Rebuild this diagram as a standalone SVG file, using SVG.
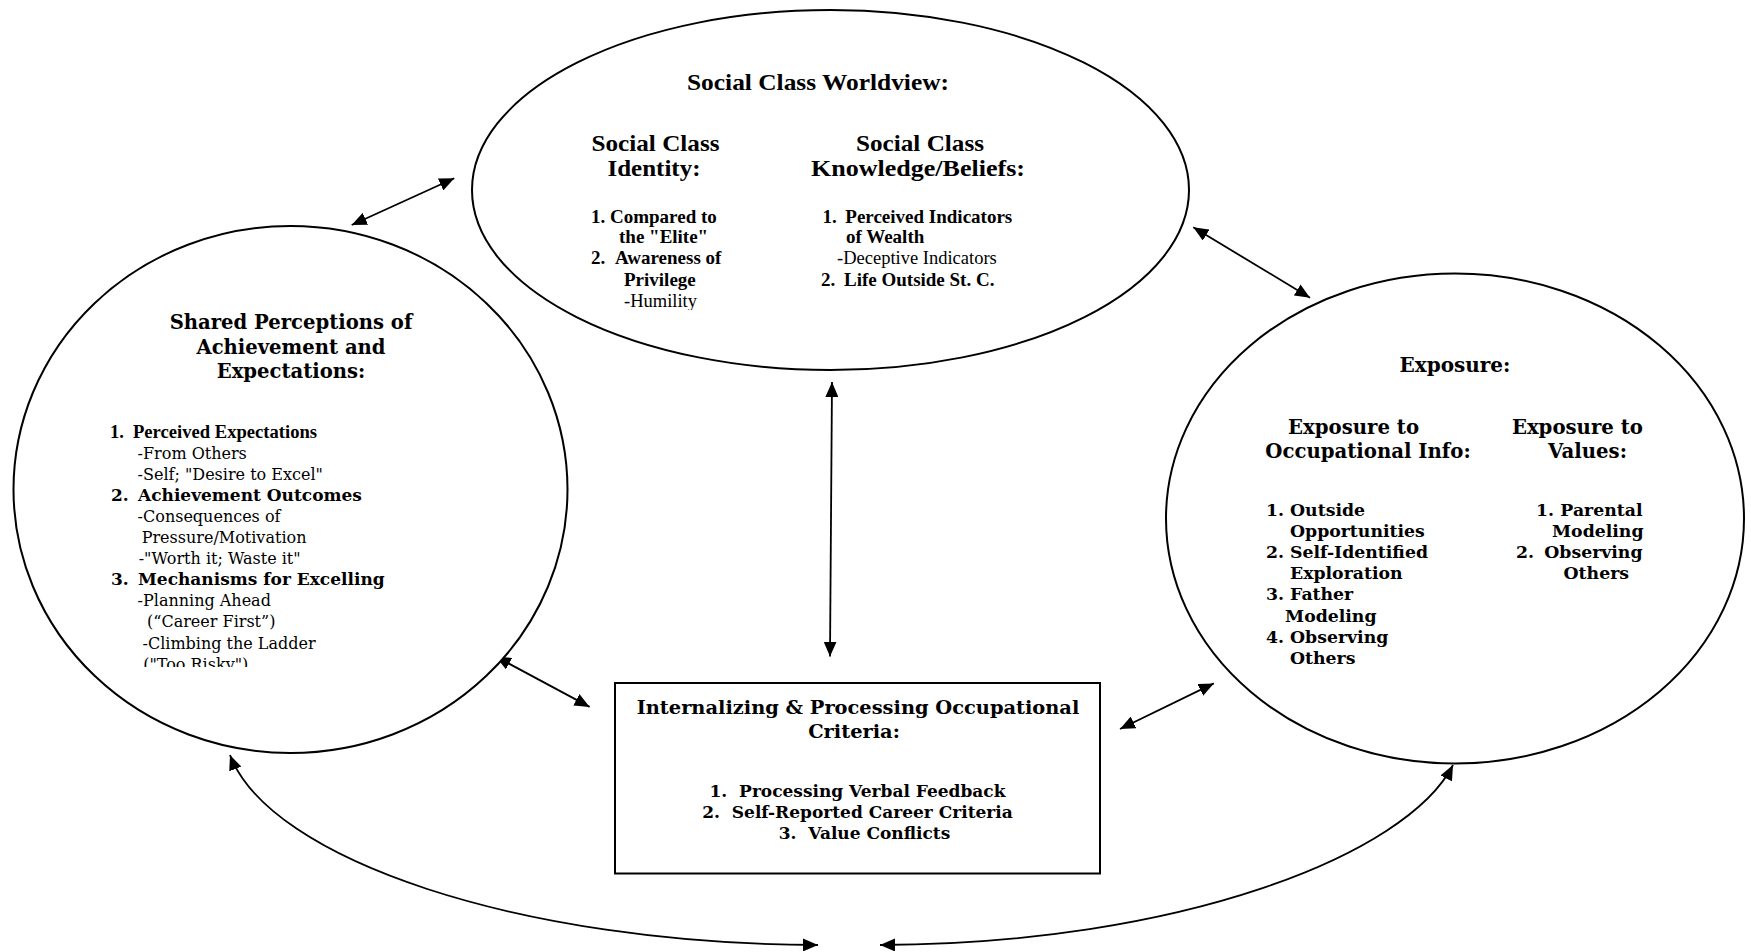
<svg xmlns="http://www.w3.org/2000/svg" width="1751" height="952" viewBox="0 0 1751 952">
<style>
.shape{fill:#fff;stroke:#000;stroke-width:2}
.conn{fill:none;stroke:#000;stroke-width:1.8;marker-start:url(#ah);marker-end:url(#ah)}
.tb{font-family:"Liberation Serif","Times New Roman",serif;font-weight:bold;fill:#000}
.tr{font-family:"Liberation Serif","Times New Roman",serif;font-weight:normal;fill:#000}
.db{font-family:"DejaVu Serif","Bookman Old Style",serif;font-weight:bold;fill:#000}
.dr{font-family:"DejaVu Serif","Bookman Old Style",serif;font-weight:normal;fill:#000}
.h1{font-size:23px}
.h2{font-size:22.5px}
.li{font-size:19px}
.lr{font-size:18.5px}
</style>
<defs>
<marker id="ah" viewBox="0 0 15 13" refX="15" refY="6.5" markerWidth="15" markerHeight="13" markerUnits="userSpaceOnUse" orient="auto-start-reverse">
<path d="M0,0 L15,6.5 L0,13 Z" fill="#000"/>
</marker>
<clipPath id="clipL"><rect x="0" y="0" width="600" height="667"/></clipPath>
<clipPath id="clipT"><rect x="400" y="0" width="900" height="310"/></clipPath>
</defs>
<rect width="1751" height="952" fill="#fff"/>

<g id="connectors">
<line class="conn" x1="351.7" y1="225" x2="454.3" y2="178.3"/>
<line class="conn" x1="1193.3" y1="227.3" x2="1310" y2="297.7"/>
<line class="conn" x1="832" y1="382" x2="830" y2="656.6"/>
<line class="conn" x1="495.8" y1="656.6" x2="589.6" y2="706.9"/>
<line class="conn" x1="1120" y1="729" x2="1213.8" y2="683.4"/>
<path class="conn" d="M230,755 C270,860 520,944 818,945"/>
<path class="conn" d="M1453,765 C1407,855 1180,944 880,945"/>
</g>

<g id="social-class-worldview">
<ellipse class="shape" cx="830.5" cy="190" rx="358.5" ry="180"/>
<text class="tb h1" x="818" y="90" text-anchor="middle" textLength="262" lengthAdjust="spacingAndGlyphs">Social Class Worldview:</text>
<text class="tb h2" x="655.5" y="150.5" text-anchor="middle" textLength="128" lengthAdjust="spacingAndGlyphs">Social Class</text>
<text class="tb h2" x="654" y="176" text-anchor="middle" textLength="93" lengthAdjust="spacingAndGlyphs">Identity:</text>
<text class="tb h2" x="920" y="150.5" text-anchor="middle" textLength="128" lengthAdjust="spacingAndGlyphs">Social Class</text>
<text class="tb h2" x="918" y="176" text-anchor="middle" textLength="214" lengthAdjust="spacingAndGlyphs">Knowledge/Beliefs:</text>
<text class="tb li" x="591" y="222.7">1. Compared to</text>
<text class="tb li" x="619" y="242.7">the "Elite"</text>
<text class="tb li" x="591" y="264">2.</text>
<text class="tb li" x="615" y="264">Awareness of</text>
<text class="tb li" x="624" y="285.7">Privilege</text>
<text class="tr lr" x="624" y="306.7" clip-path="url(#clipT)">-Humility</text>
<text class="tb li" x="822.5" y="222.7">1.</text>
<text class="tb li" x="845.3" y="222.7">Perceived Indicators</text>
<text class="tb li" x="846" y="242.7">of Wealth</text>
<text class="tr lr" x="837" y="264">-Deceptive Indicators</text>
<text class="tb li" x="821" y="285.7">2.</text>
<text class="tb li" x="844" y="285.7">Life Outside St. C.</text>
</g>

<g id="shared-perceptions">
<ellipse class="shape" cx="290.5" cy="489.5" rx="277" ry="263.5"/>
<text class="db" font-size="19.6" x="291" y="329" text-anchor="middle">Shared Perceptions of</text>
<text class="db" font-size="19.6" x="291" y="353.5" text-anchor="middle">Achievement and</text>
<text class="db" font-size="19.6" x="291" y="378" text-anchor="middle">Expectations:</text>
<text class="tb" font-size="18.6" x="110" y="437.5">1.</text>
<text class="tb" font-size="18.6" x="133" y="437.5">Perceived Expectations</text>
<text class="dr" font-size="16" x="137.6" y="458.5">-From Others</text>
<text class="dr" font-size="16" x="137.6" y="479.5">-Self; "Desire to Excel"</text>
<text class="db" font-size="17" x="111" y="500.5">2.</text>
<text class="db" font-size="17" x="138" y="500.5">Achievement Outcomes</text>
<text class="dr" font-size="16" x="137.6" y="521.8">-Consequences of</text>
<text class="dr" font-size="16" x="141.7" y="543">Pressure/Motivation</text>
<text class="dr" font-size="16" x="138.7" y="564">-"Worth it; Waste it"</text>
<text class="db" font-size="17" x="111" y="585.2">3.</text>
<text class="db" font-size="17" x="138" y="585.2">Mechanisms for Excelling</text>
<text class="dr" font-size="16" x="137.6" y="606.3">-Planning Ahead</text>
<text class="dr" font-size="16" x="147" y="627.4">(“Career First”)</text>
<text class="dr" font-size="16" x="142.5" y="648.6">-Climbing the Ladder</text>
<text class="dr" font-size="16" x="143.2" y="670" clip-path="url(#clipL)">("Too Risky")</text>
</g>

<g id="exposure">
<ellipse class="shape" cx="1455" cy="518.5" rx="289" ry="245"/>
<text class="db" font-size="20" x="1455" y="372" text-anchor="middle">Exposure:</text>
<text class="db" font-size="19.7" x="1353.6" y="433.7" text-anchor="middle">Exposure to</text>
<text class="db" font-size="19.7" x="1368" y="457.7" text-anchor="middle">Occupational Info:</text>
<text class="db" font-size="19.7" x="1577.4" y="433.7" text-anchor="middle">Exposure to</text>
<text class="db" font-size="19.7" x="1587.5" y="457.7" text-anchor="middle">Values:</text>
<text class="db" font-size="17.3" x="1266" y="515.5">1. Outside</text>
<text class="db" font-size="17.3" x="1290" y="536.7">Opportunities</text>
<text class="db" font-size="17.3" x="1266" y="557.9">2. Self-Identified</text>
<text class="db" font-size="17.3" x="1290" y="579.1">Exploration</text>
<text class="db" font-size="17.3" x="1266" y="600.3">3. Father</text>
<text class="db" font-size="17.3" x="1285" y="621.5">Modeling</text>
<text class="db" font-size="17.3" x="1266" y="642.7">4. Observing</text>
<text class="db" font-size="17.3" x="1290" y="663.9">Others</text>
<text class="db" font-size="17.3" x="1536" y="515.5">1.</text>
<text class="db" font-size="17.3" x="1642.5" y="515.5" text-anchor="end">Parental</text>
<text class="db" font-size="17.3" x="1643.5" y="536.7" text-anchor="end">Modeling</text>
<text class="db" font-size="17.3" x="1516" y="557.9">2.</text>
<text class="db" font-size="17.3" x="1642.5" y="557.9" text-anchor="end">Observing</text>
<text class="db" font-size="17.3" x="1629" y="579.1" text-anchor="end">Others</text>
</g>

<g id="internalizing">
<rect class="shape" x="615" y="683" width="485" height="190.5"/>
<text class="db" font-size="19.4" x="858" y="713.5" text-anchor="middle">Internalizing &amp; Processing Occupational</text>
<text class="db" font-size="19.4" x="854" y="737.5" text-anchor="middle">Criteria:</text>
<text class="db" font-size="17" x="857.5" y="796.5" text-anchor="middle">1.&#160; Processing Verbal Feedback</text>
<text class="db" font-size="17" x="857.5" y="818" text-anchor="middle">2.&#160; Self-Reported Career Criteria</text>
<text class="db" font-size="17" x="864.5" y="839" text-anchor="middle">3.&#160; Value Conflicts</text>
</g>
</svg>
